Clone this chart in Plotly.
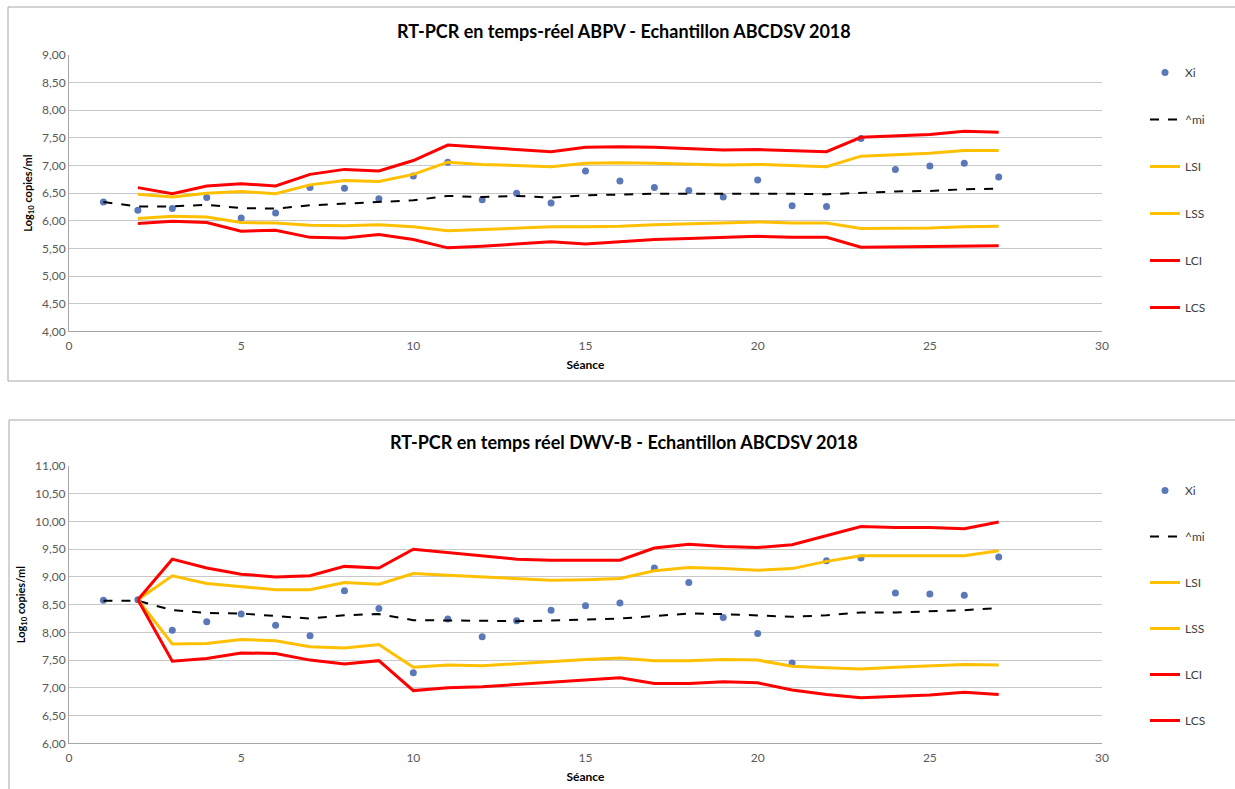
import plotly.graph_objects as go

seances = list(range(1, 28))
seances_lim = list(range(2, 28))

# ---- Chart 1: ABPV ----
abpv_xi = [6.34, 6.19, 6.22, 6.42, 6.05, 6.14, 6.60, 6.59, 6.40, 6.81, 7.06, 6.38, 6.50, 6.32,
           6.90, 6.72, 6.60, 6.55, 6.43, 6.74, 6.27, 6.26, 7.49, 6.93, 6.99, 7.04, 6.79]
abpv_mi = [6.34, 6.26, 6.26, 6.29, 6.23, 6.22, 6.28, 6.31, 6.33, 6.37, 6.45, 6.43, 6.45, 6.42,
           6.46, 6.48, 6.49, 6.49, 6.49, 6.50, 6.49, 6.48, 6.51, 6.53, 6.54, 6.57, 6.58]
abpv_lsi = [6.04, 6.08, 6.07, 5.97, 5.96, 5.92, 5.91, 5.93, 5.89, 5.82, 5.84, 5.87, 5.89, 5.89,
            5.90, 5.93, 5.95, 5.96, 5.98, 5.96, 5.96, 5.86, 5.86, 5.87, 5.89, 5.90]
abpv_lss = [6.48, 6.43, 6.50, 6.53, 6.49, 6.65, 6.73, 6.71, 6.84, 7.06, 7.02, 7.00, 6.98, 7.04,
            7.05, 7.04, 7.03, 7.01, 7.02, 7.00, 6.98, 7.17, 7.20, 7.22, 7.27, 7.27]
abpv_lci = [5.95, 5.99, 5.97, 5.81, 5.83, 5.70, 5.69, 5.75, 5.66, 5.51, 5.54, 5.58, 5.62, 5.58,
            5.62, 5.66, 5.68, 5.70, 5.72, 5.70, 5.70, 5.52, 5.53, 5.54, 5.54, 5.55]
abpv_lcs = [6.60, 6.49, 6.63, 6.67, 6.63, 6.84, 6.93, 6.90, 7.09, 7.37, 7.33, 7.29, 7.25, 7.33,
            7.34, 7.33, 7.31, 7.28, 7.29, 7.27, 7.25, 7.51, 7.54, 7.56, 7.62, 7.60]

# ---- Chart 2: DWV-B ----
dwv_xi = [8.58, 8.59, 8.04, 8.19, 8.33, 8.13, 7.94, 8.75, 8.43, 7.27, 8.24, 7.92, 8.21, 8.40,
          8.48, 8.53, 9.16, 8.90, 8.27, 7.98, 7.45, 9.29, 9.34, 8.71, 8.69, 8.67, 9.36]
dwv_mi = [8.57, 8.57, 8.40, 8.35, 8.34, 8.30, 8.25, 8.31, 8.33, 8.22, 8.22, 8.21, 8.20, 8.21,
          8.23, 8.25, 8.30, 8.34, 8.33, 8.31, 8.28, 8.31, 8.36, 8.36, 8.38, 8.40, 8.44]
dwv_lsi = [8.59, 7.79, 7.80, 7.87, 7.85, 7.74, 7.72, 7.78, 7.37, 7.41, 7.40, 7.44, 7.48, 7.51,
           7.54, 7.49, 7.49, 7.51, 7.50, 7.39, 7.36, 7.34, 7.37, 7.40, 7.42, 7.41]
dwv_lss = [8.59, 9.02, 8.88, 8.82, 8.77, 8.77, 8.90, 8.87, 9.06, 9.03, 9.00, 8.96, 8.94, 8.95,
           8.97, 9.11, 9.17, 9.15, 9.12, 9.15, 9.28, 9.38, 9.38, 9.38, 9.38, 9.47]
dwv_lci = [8.59, 7.48, 7.53, 7.63, 7.62, 7.50, 7.43, 7.49, 6.95, 7.00, 7.02, 7.06, 7.10, 7.15,
           7.18, 7.08, 7.08, 7.11, 7.09, 6.96, 6.88, 6.82, 6.84, 6.87, 6.92, 6.88]
dwv_lcs = [8.59, 9.32, 9.16, 9.05, 9.00, 9.02, 9.19, 9.16, 9.50, 9.44, 9.39, 9.32, 9.30, 9.30,
           9.30, 9.52, 9.59, 9.55, 9.53, 9.58, 9.75, 9.91, 9.89, 9.89, 9.87, 9.99]

titles = ["RT-PCR en temps-réel ABPV - Echantillon ABCDSV 2018",
          "RT-PCR en temps réel DWV-B - Echantillon ABCDSV 2018"]
series_names = ["Xi", "^mi", "LSI", "LSS", "LCI", "LCS"]

BLUE = "#5b79b9"
YELLOW = "#FFC000"
RED = "#FF0000"
FONT = "Lato"
W, H = 1235, 789

fig = go.Figure()

datasets = [
    (abpv_xi, abpv_mi, abpv_lsi, abpv_lss, abpv_lci, abpv_lcs),
    (dwv_xi, dwv_mi, dwv_lsi, dwv_lss, dwv_lci, dwv_lcs),
]

for i, (xi, mi, lsi, lss, lci, lcs) in enumerate(datasets):
    xa = "x" if i == 0 else "x2"
    ya = "y" if i == 0 else "y2"
    lg = "legend" if i == 0 else "legend2"
    fig.add_trace(go.Scatter(x=seances, y=xi, mode="markers", name=series_names[0],
                             marker=dict(color=BLUE, size=7), xaxis=xa, yaxis=ya,
                             legend=lg, legendgroup=f"{i}a"))
    fig.add_trace(go.Scatter(x=seances, y=mi, mode="lines", name=series_names[1],
                             line=dict(color="black", width=2, dash="dash"), xaxis=xa, yaxis=ya,
                             legend=lg, legendgroup=f"{i}b"))
    for j, (vals, col) in enumerate([(lsi, YELLOW), (lss, YELLOW), (lci, RED), (lcs, RED)]):
        fig.add_trace(go.Scatter(x=seances_lim, y=vals, mode="lines", name=series_names[2 + j],
                                 line=dict(color=col, width=3), xaxis=xa, yaxis=ya,
                                 legend=lg, legendgroup=f"{i}c{j}"))

axis_common = dict(showline=True, linecolor="#a6a6a6", linewidth=1, ticks="", zeroline=False,
                   automargin=False,
                   tickfont=dict(family=FONT, size=12, color="#595959"))
x_extra = dict(showgrid=False, ticklabelstandoff=3)
y_extra = dict(showgrid=True, gridcolor="#c8c8c8", gridwidth=1)

def px_x(p):
    return p / W

def px_y(p):
    return 1 - p / H

x_dom = [px_x(69), px_x(1102)]
xtitle = dict(text="<b>Séance</b>", font=dict(family=FONT, size=12, color="#000"), standoff=8)
ytitle = dict(text="<b>Log<sub>10</sub> copies/ml</b>", font=dict(family=FONT, size=11, color="#000"), standoff=7)

fig.update_layout(
    width=W, height=H,
    margin=dict(l=0, r=0, t=0, b=0, pad=0),
    paper_bgcolor="white", plot_bgcolor="white",
    separators=", ",
    font=dict(family=FONT, color="#404040"),
    xaxis=dict(domain=x_dom, range=[0, 30], dtick=5, anchor="y", title=xtitle, **axis_common, **x_extra),
    yaxis=dict(domain=[px_y(331.3), px_y(55)], range=[4, 9], dtick=0.5, tickformat=".2f", anchor="x",
               title=ytitle, **axis_common, **y_extra),
    xaxis2=dict(domain=x_dom, range=[0, 30], dtick=5, anchor="y2", title=xtitle, **axis_common, **x_extra),
    yaxis2=dict(domain=[px_y(743.3), px_y(466)], range=[6, 11], dtick=0.5, tickformat=".2f", anchor="x2",
                title=ytitle, **axis_common, **y_extra),
    legend=dict(x=px_x(1145), y=px_y(58), xanchor="left", yanchor="top",
                tracegroupgap=28, traceorder="grouped", bgcolor="rgba(0,0,0,0)",
                font=dict(family=FONT, size=12, color="#404040")),
    legend2=dict(x=px_x(1145), y=px_y(476), xanchor="left", yanchor="top",
                 tracegroupgap=27, traceorder="grouped", bgcolor="rgba(0,0,0,0)",
                 font=dict(family=FONT, size=12, color="#404040")),
    showlegend=True,
)

# chart frames
fig.add_shape(type="rect", xref="paper", yref="paper",
              x0=px_x(8), x1=px_x(1240), y0=px_y(381), y1=px_y(7),
              line=dict(color="#a6a6a6", width=1), fillcolor="rgba(0,0,0,0)", layer="below")
fig.add_shape(type="rect", xref="paper", yref="paper",
              x0=px_x(9), x1=px_x(1240), y0=px_y(800), y1=px_y(420),
              line=dict(color="#a6a6a6", width=1), fillcolor="rgba(0,0,0,0)", layer="below")

fig.add_annotation(text=f"<b>{titles[0]}</b>", xref="paper", yref="paper",
                   x=px_x(624), y=px_y(31), showarrow=False, xanchor="center", yanchor="middle",
                   font=dict(family=FONT, size=18, color="#000"))
fig.add_annotation(text=f"<b>{titles[1]}</b>", xref="paper", yref="paper",
                   x=px_x(624), y=px_y(442), showarrow=False, xanchor="center", yanchor="middle",
                   font=dict(family=FONT, size=18, color="#000"))

fig.write_html("out.html", config={"displayModeBar": False},
               post_script="document.body.style.margin='0';document.body.style.overflow='hidden';")
